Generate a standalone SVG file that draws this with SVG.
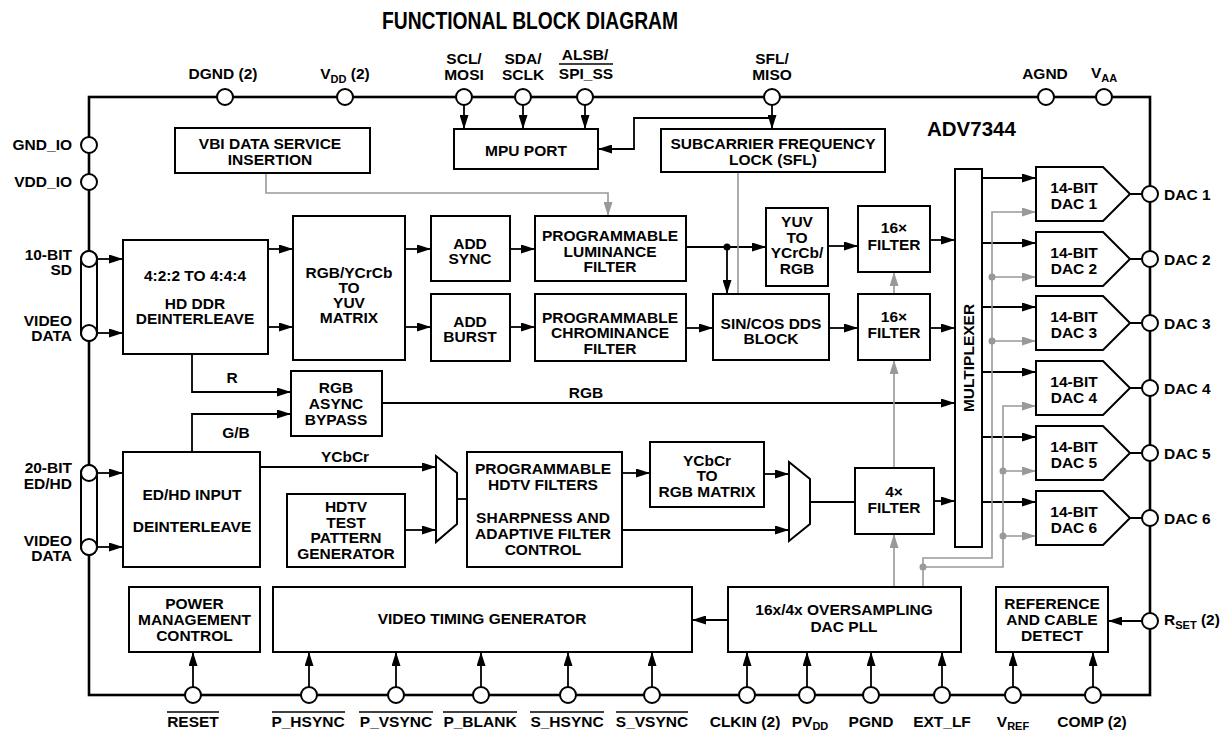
<svg xmlns="http://www.w3.org/2000/svg" width="1231" height="733" viewBox="0 0 1231 733">
<style>
.t{font-family:"Liberation Sans",Arial,Helvetica,sans-serif;font-weight:bold;font-size:15.5px;fill:#000}
.m{text-anchor:middle}
.e{text-anchor:end}
.sub{font-size:11px}
.box{fill:#fff;stroke:#000;stroke-width:2}
.frame{fill:none;stroke:#000;stroke-width:2.6}
.pin{fill:#fff;stroke:#000;stroke-width:2}
.c{fill:none;stroke:#000;stroke-width:1.8}
.ca{fill:none;stroke:#000;stroke-width:1.8;marker-end:url(#a)}
.g{fill:none;stroke:#999;stroke-width:1.6}
.ga{fill:none;stroke:#999;stroke-width:1.6;marker-end:url(#ag)}
.ol{stroke:#000;stroke-width:1.4}
</style>
<defs>
<marker id="a" markerWidth="14" markerHeight="9" refX="14" refY="4.5" orient="auto" markerUnits="userSpaceOnUse"><path d="M0,0 L14,4.5 L0,9 z" fill="#000"/></marker>
<marker id="ag" markerWidth="14" markerHeight="9" refX="14" refY="4.5" orient="auto" markerUnits="userSpaceOnUse"><path d="M0,0 L14,4.5 L0,9 z" fill="#999"/></marker>
<path id="dac" d="M0,0 H67 L94,27 L67,54 H0 Z" class="box"/>
</defs>
<rect width="1231" height="733" fill="#fff"/>
<text class="t m" x="530" y="29" textLength="296" lengthAdjust="spacingAndGlyphs" style="font-size:24px">FUNCTIONAL BLOCK DIAGRAM</text>

<g id="frame">
<rect class="frame" x="89" y="97" width="1061" height="598"/>
<text class="t" x="927" y="136" style="font-size:20.5px">ADV7344</text>
</g>

<g id="connectors">
<path class="ca" d="M464,105 V129"/>
<path class="ca" d="M523,105 V129"/>
<path class="ca" d="M585,105 V129"/>
<path class="ca" d="M772,105 V129"/>
<path class="ca" d="M772,118 H634 V149 H598"/>
<path class="ca" d="M97,259 H123"/>
<path class="ca" d="M97,333 H123"/>
<path class="ca" d="M97,473 H123"/>
<path class="ca" d="M97,547 H123"/>
<path class="ca" d="M268,249 H293"/>
<path class="ca" d="M268,327 H293"/>
<path class="ca" d="M405,249 H431"/>
<path class="ca" d="M405,327 H431"/>
<path class="ca" d="M510,249 H535"/>
<path class="ca" d="M510,327 H535"/>
<path class="ca" d="M686,247 H766"/>
<path class="ca" d="M727,247 V294"/>
<circle cx="727" cy="247" r="3.5" fill="#000"/>
<path class="ca" d="M686,328 H713"/>
<path class="ca" d="M828,246 H858"/>
<path class="ca" d="M829,328 H858"/>
<path class="ca" d="M930,240 H955"/>
<path class="ca" d="M930,328 H955"/>
<path class="ca" d="M192,354 V392 H291"/>
<path class="ca" d="M192,452 V414 H291"/>
<path class="ca" d="M382,403 H955"/>
<path class="ca" d="M260,467 H436"/>
<path class="ca" d="M405,530 H436"/>
<path class="c" d="M457,499 H467"/>
<path class="ca" d="M622,473 H650"/>
<path class="ca" d="M764,474 H789"/>
<path class="ca" d="M622,530 H789"/>
<path class="c" d="M810,502 H855"/>
<path class="ca" d="M934,501 H955"/>
<path class="ca" d="M982,178 H1036"/>
<path class="ca" d="M982,243 H1036"/>
<path class="ca" d="M982,307 H1036"/>
<path class="ca" d="M982,372 H1036"/>
<path class="ca" d="M982,437 H1036"/>
<path class="ca" d="M982,502 H1036"/>
<path class="c" d="M1130,194 H1142 M1130,259 H1142 M1130,323 H1142 M1130,388 H1142 M1130,453 H1142 M1130,518 H1142"/>
<path class="ca" d="M728,620 H692"/>
<path class="ca" d="M1142,621 H1108"/>
<path class="ca" d="M193,687 V652"/>
<path class="ca" d="M309,687 V652"/>
<path class="ca" d="M396,687 V652"/>
<path class="ca" d="M481,687 V652"/>
<path class="ca" d="M568,687 V652"/>
<path class="ca" d="M652,687 V652"/>
<path class="ca" d="M747,687 V652"/>
<path class="ca" d="M807,687 V652"/>
<path class="ca" d="M871,687 V652"/>
<path class="ca" d="M942,687 V652"/>
<path class="ca" d="M1013,687 V652"/>
<path class="ca" d="M1093,687 V652"/>
<path class="ga" d="M266,173 V193 H608 V216"/>
<path class="g" d="M738,172 V294"/>
<path class="ga" d="M894,294 V272"/>
<path class="ga" d="M894,587 V534"/>
<path class="ga" d="M894,468 V360"/>
<path class="ga" d="M923,587 V558 H992 V212 H1036"/>
<path class="ga" d="M992,277 H1036"/>
<path class="ga" d="M992,341 H1036"/>
<path class="ga" d="M923,567 H1003 V406 H1036"/>
<path class="ga" d="M1003,471 H1036"/>
<path class="ga" d="M1003,536 H1036"/>
<g fill="#999">
<circle cx="992" cy="277" r="3.5"/>
<circle cx="992" cy="341" r="3.5"/>
<circle cx="1003" cy="471" r="3.5"/>
<circle cx="1003" cy="536" r="3.5"/>
<circle cx="923" cy="567" r="3.5"/>
</g>
</g>

<g id="vbi"><rect class="box" x="175" y="128" width="195" height="45"/>
<text class="t m" x="270" y="149">VBI DATA SERVICE</text><text class="t m" x="270" y="165">INSERTION</text></g>
<g id="mpu"><rect class="box" x="454" y="129" width="144" height="40"/>
<text class="t m" x="526" y="156">MPU PORT</text></g>
<g id="sfl"><rect class="box" x="661" y="129" width="224" height="43"/>
<text class="t m" x="773" y="149">SUBCARRIER FREQUENCY</text><text class="t m" x="773" y="165">LOCK (SFL)</text></g>
<g id="hdddr"><rect class="box" x="123" y="240" width="145" height="114"/>
<text class="t m" x="195" y="281">4:2:2 TO 4:4:4</text><text class="t m" x="195" y="309">HD DDR</text><text class="t m" x="195" y="324">DEINTERLEAVE</text></g>
<g id="rgbyuv"><rect class="box" x="293" y="216" width="112" height="144"/>
<text class="t m" x="349" y="278">RGB/YCrCb</text><text class="t m" x="349" y="293">TO</text><text class="t m" x="349" y="308">YUV</text><text class="t m" x="349" y="323">MATRIX</text></g>
<g id="addsync"><rect class="box" x="431" y="216" width="79" height="65"/>
<text class="t m" x="470" y="249">ADD</text><text class="t m" x="470" y="264">SYNC</text></g>
<g id="addburst"><rect class="box" x="431" y="294" width="79" height="67"/>
<text class="t m" x="470" y="327">ADD</text><text class="t m" x="470" y="342">BURST</text></g>
<g id="lum"><rect class="box" x="535" y="216" width="151" height="65"/>
<text class="t m" x="610" y="241">PROGRAMMABLE</text><text class="t m" x="610" y="257">LUMINANCE</text><text class="t m" x="610" y="272">FILTER</text></g>
<g id="chrom"><rect class="box" x="535" y="294" width="151" height="67"/>
<text class="t m" x="610" y="323">PROGRAMMABLE</text><text class="t m" x="610" y="338">CHROMINANCE</text><text class="t m" x="610" y="354">FILTER</text></g>
<g id="yuv"><rect class="box" x="766" y="208" width="62" height="78"/>
<text class="t m" x="797" y="227">YUV</text><text class="t m" x="797" y="243">TO</text><text class="t m" x="797" y="258">YCrCb/</text><text class="t m" x="797" y="274">RGB</text></g>
<g id="sincos"><rect class="box" x="713" y="294" width="116" height="66"/>
<text class="t m" x="771" y="329">SIN/COS DDS</text><text class="t m" x="771" y="344">BLOCK</text></g>
<g id="f16a"><rect class="box" x="858" y="206" width="72" height="66"/>
<text class="t m" x="894" y="233">16×</text><text class="t m" x="894" y="250">FILTER</text></g>
<g id="f16b"><rect class="box" x="858" y="294" width="72" height="66"/>
<text class="t m" x="894" y="322">16×</text><text class="t m" x="894" y="338">FILTER</text></g>
<g id="mux"><rect class="box" x="955" y="169" width="27" height="378"/>
<text class="t m" transform="translate(974,358) rotate(-90)">MULTIPLEXER</text></g>

<g id="dac1"><use href="#dac" x="1036" y="167"/><text class="t m" x="1074" y="193">14-BIT</text><text class="t m" x="1074" y="209">DAC 1</text></g>
<g id="dac2"><use href="#dac" x="1036" y="232"/><text class="t m" x="1074" y="258">14-BIT</text><text class="t m" x="1074" y="274">DAC 2</text></g>
<g id="dac3"><use href="#dac" x="1036" y="296"/><text class="t m" x="1074" y="322">14-BIT</text><text class="t m" x="1074" y="338">DAC 3</text></g>
<g id="dac4"><use href="#dac" x="1036" y="361"/><text class="t m" x="1074" y="387">14-BIT</text><text class="t m" x="1074" y="403">DAC 4</text></g>
<g id="dac5"><use href="#dac" x="1036" y="426"/><text class="t m" x="1074" y="452">14-BIT</text><text class="t m" x="1074" y="468">DAC 5</text></g>
<g id="dac6"><use href="#dac" x="1036" y="491"/><text class="t m" x="1074" y="517">14-BIT</text><text class="t m" x="1074" y="533">DAC 6</text></g>

<g id="rgbasync"><rect class="box" x="291" y="371" width="91" height="65"/>
<text class="t m" x="336" y="393">RGB</text><text class="t m" x="336" y="409">ASYNC</text><text class="t m" x="336" y="425">BYPASS</text></g>
<g id="edhd"><rect class="box" x="123" y="452" width="137" height="115"/>
<text class="t m" x="192" y="500">ED/HD INPUT</text><text class="t m" x="192" y="532">DEINTERLEAVE</text></g>
<g id="hdtvtest"><rect class="box" x="287" y="494" width="118" height="73"/>
<text class="t m" x="346" y="512">HDTV</text><text class="t m" x="346" y="528">TEST</text><text class="t m" x="346" y="543">PATTERN</text><text class="t m" x="346" y="559">GENERATOR</text></g>
<g id="mux1"><polygon class="box" points="436,456 457,473 457,524 436,542"/></g>
<g id="hdtvfilt"><rect class="box" x="467" y="452" width="155" height="115"/>
<text class="t m" x="543" y="474">PROGRAMMABLE</text><text class="t m" x="543" y="490">HDTV FILTERS</text><text class="t m" x="543" y="523">SHARPNESS AND</text><text class="t m" x="543" y="539">ADAPTIVE FILTER</text><text class="t m" x="543" y="555">CONTROL</text></g>
<g id="ycbcr2rgb"><rect class="box" x="650" y="442" width="114" height="65"/>
<text class="t m" x="707" y="466">YCbCr</text><text class="t m" x="707" y="481">TO</text><text class="t m" x="707" y="497">RGB MATRIX</text></g>
<g id="mux2"><polygon class="box" points="789,462 810,479 810,524 789,541"/></g>
<g id="f4"><rect class="box" x="855" y="468" width="79" height="66"/>
<text class="t m" x="894" y="497">4×</text><text class="t m" x="894" y="513">FILTER</text></g>
<g id="pmc"><rect class="box" x="129" y="587" width="131" height="65"/>
<text class="t m" x="194.5" y="609">POWER</text><text class="t m" x="194.5" y="625">MANAGEMENT</text><text class="t m" x="194.5" y="641">CONTROL</text></g>
<g id="vtg"><rect class="box" x="273" y="587" width="419" height="65"/>
<text class="t m" x="482" y="624">VIDEO TIMING GENERATOR</text></g>
<g id="pll"><rect class="box" x="728" y="587" width="233" height="65"/>
<text class="t m" x="844" y="615">16x/4x OVERSAMPLING</text><text class="t m" x="844" y="632">DAC PLL</text></g>
<g id="refcable"><rect class="box" x="996" y="587" width="112" height="65"/>
<text class="t m" x="1052" y="609">REFERENCE</text><text class="t m" x="1052" y="625">AND CABLE</text><text class="t m" x="1052" y="641">DETECT</text></g>

<g id="pins">
<rect class="pin" x="81" y="251" width="16" height="90" rx="8"/>
<rect class="pin" x="81" y="465" width="16" height="90" rx="8"/>
<circle class="pin" cx="225" cy="97" r="8"/>
<circle class="pin" cx="345" cy="97" r="8"/>
<circle class="pin" cx="464" cy="97" r="8"/>
<circle class="pin" cx="523" cy="97" r="8"/>
<circle class="pin" cx="585" cy="97" r="8"/>
<circle class="pin" cx="772" cy="97" r="8"/>
<circle class="pin" cx="1046" cy="97" r="8"/>
<circle class="pin" cx="1104" cy="97" r="8"/>
<circle class="pin" cx="89" cy="145" r="8"/>
<circle class="pin" cx="89" cy="182" r="8"/>
<circle class="pin" cx="89" cy="259" r="8"/>
<circle class="pin" cx="89" cy="333" r="8"/>
<circle class="pin" cx="89" cy="473" r="8"/>
<circle class="pin" cx="89" cy="547" r="8"/>
<circle class="pin" cx="1150" cy="194" r="8"/>
<circle class="pin" cx="1150" cy="259" r="8"/>
<circle class="pin" cx="1150" cy="323" r="8"/>
<circle class="pin" cx="1150" cy="388" r="8"/>
<circle class="pin" cx="1150" cy="453" r="8"/>
<circle class="pin" cx="1150" cy="518" r="8"/>
<circle class="pin" cx="1150" cy="621" r="8"/>
<circle class="pin" cx="193" cy="695" r="8"/>
<circle class="pin" cx="309" cy="695" r="8"/>
<circle class="pin" cx="396" cy="695" r="8"/>
<circle class="pin" cx="481" cy="695" r="8"/>
<circle class="pin" cx="568" cy="695" r="8"/>
<circle class="pin" cx="652" cy="695" r="8"/>
<circle class="pin" cx="747" cy="695" r="8"/>
<circle class="pin" cx="807" cy="695" r="8"/>
<circle class="pin" cx="871" cy="695" r="8"/>
<circle class="pin" cx="942" cy="695" r="8"/>
<circle class="pin" cx="1013" cy="695" r="8"/>
<circle class="pin" cx="1093" cy="695" r="8"/>
</g>

<g id="labels">
<text class="t m" x="223" y="79">DGND (2)</text>
<text class="t m" x="345" y="79">V<tspan class="sub" dy="4">DD</tspan><tspan dy="-4"> (2)</tspan></text>
<text class="t m" x="464" y="64">SCL/</text><text class="t m" x="464" y="80">MOSI</text>
<text class="t m" x="523" y="64">SDA/</text><text class="t m" x="523" y="80">SCLK</text>
<text class="t m" x="585" y="60">ALSB/</text><text class="t m" x="586" y="79">SPI_SS</text>
<line class="ol" x1="559" y1="64" x2="613" y2="64"/>
<text class="t m" x="772" y="64">SFL/</text><text class="t m" x="772" y="80">MISO</text>
<text class="t m" x="1045" y="79">AGND</text>
<text class="t m" x="1104" y="78">V<tspan class="sub" dy="4">AA</tspan></text>
<text class="t e" x="72" y="150">GND_IO</text>
<text class="t e" x="72" y="187">VDD_IO</text>
<text class="t e" x="72" y="260">10-BIT</text><text class="t e" x="72" y="275">SD</text>
<text class="t e" x="72" y="326">VIDEO</text><text class="t e" x="72" y="341">DATA</text>
<text class="t e" x="72" y="473">20-BIT</text><text class="t e" x="72" y="489">ED/HD</text>
<text class="t e" x="72" y="546">VIDEO</text><text class="t e" x="72" y="561">DATA</text>
<text class="t" x="1164" y="200">DAC 1</text>
<text class="t" x="1164" y="265">DAC 2</text>
<text class="t" x="1164" y="329">DAC 3</text>
<text class="t" x="1164" y="394">DAC 4</text>
<text class="t" x="1164" y="459">DAC 5</text>
<text class="t" x="1164" y="524">DAC 6</text>
<text class="t" x="1164" y="625">R<tspan class="sub" dy="4">SET</tspan><tspan dy="-4"> (2)</tspan></text>
<text class="t m" x="232" y="383">R</text>
<text class="t m" x="236" y="438">G/B</text>
<text class="t m" x="586" y="398">RGB</text>
<text class="t m" x="345" y="462">YCbCr</text>
<text class="t m" x="193" y="727">RESET</text>
<text class="t m" x="308" y="727">P_HSYNC</text>
<text class="t m" x="396" y="727">P_VSYNC</text>
<text class="t m" x="480" y="727">P_BLANK</text>
<text class="t m" x="567" y="727">S_HSYNC</text>
<text class="t m" x="652" y="727">S_VSYNC</text>
<g class="ol">
<line x1="167" y1="712" x2="219" y2="712"/>
<line x1="272" y1="712" x2="345" y2="712"/>
<line x1="359" y1="712" x2="433" y2="712"/>
<line x1="443" y1="712" x2="517" y2="712"/>
<line x1="530" y1="712" x2="604" y2="712"/>
<line x1="616" y1="712" x2="688" y2="712"/>
</g>
<text class="t m" x="745" y="727">CLKIN (2)</text>
<text class="t m" x="810" y="727">PV<tspan class="sub" dy="3">DD</tspan></text>
<text class="t m" x="871" y="727">PGND</text>
<text class="t m" x="942" y="727">EXT_LF</text>
<text class="t m" x="1013" y="727">V<tspan class="sub" dy="3">REF</tspan></text>
<text class="t m" x="1092" y="727">COMP (2)</text>
</g>
</svg>
